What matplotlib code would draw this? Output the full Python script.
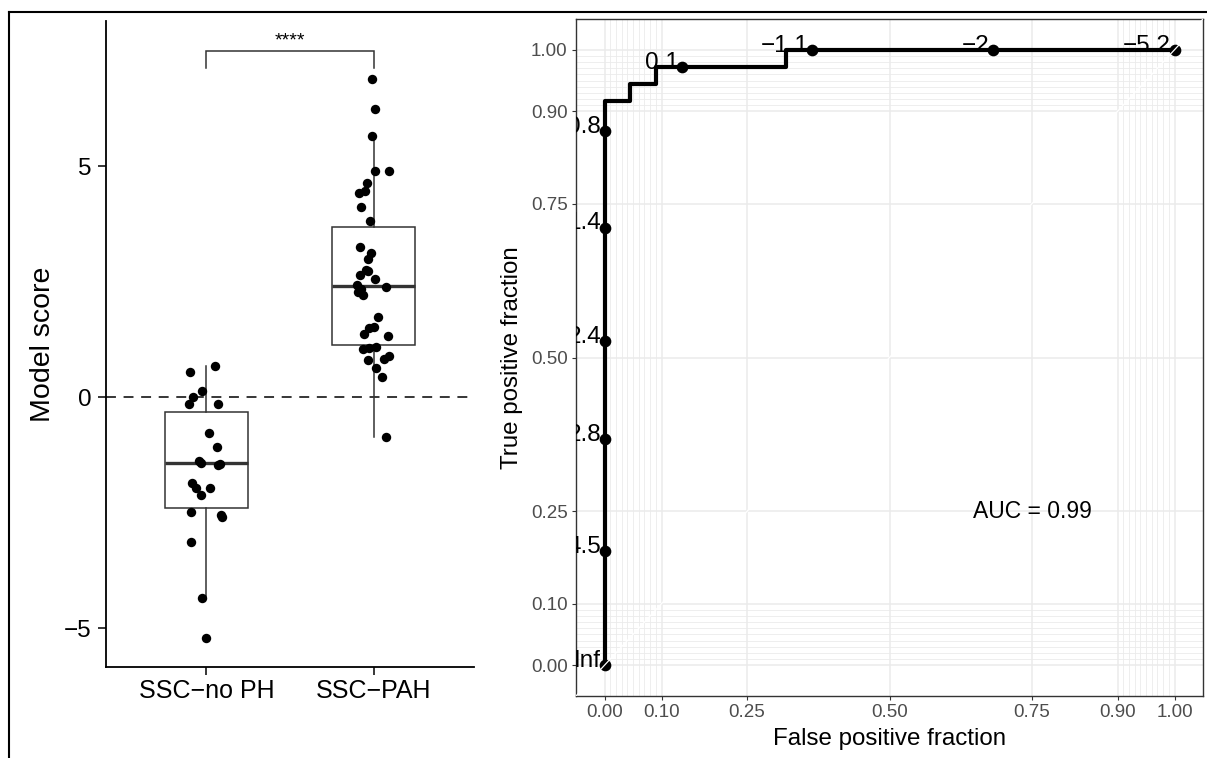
import matplotlib
matplotlib.use("Agg")
import matplotlib.pyplot as plt
from matplotlib.lines import Line2D

plt.rcParams['font.family'] = ['Liberation Sans', 'DejaVu Sans']

MINUS = '\u2212'

# ---- left panel data: model score per group (jitter) ----
groups = ['SSC' + MINUS + 'no PH', 'SSC' + MINUS + 'PAH']

score_noph = [0.68, 0.54, 0.13, 0.0, -0.15, -0.15, -0.78, -1.07, -1.38, -1.42, -1.44,
              -1.47, -1.86, -1.96, -1.96, -2.12, -2.49, -2.55, -2.60, -3.14, -4.35, -5.22]
jitter_noph = [0.054, -0.096, -0.024, -0.078, -0.102, 0.072, 0.018, 0.066, -0.042, -0.030, 0.084,
               0.072, -0.084, -0.060, 0.024, -0.030, -0.090, 0.090, 0.096, -0.090, -0.024, 0.0]

score_pah = [6.88, 6.23, 5.66, 4.89, 4.89, 4.64, 4.47, 4.42, 4.12, 3.81, 3.24, 3.12,
             3.00, 2.76, 2.73, 2.64, 2.55, 2.42, 2.39, 2.33, 2.28, 2.21, 1.74, 1.51,
             1.50, 1.36, 1.33, 1.08, 1.06, 1.04, 0.89, 0.82, 0.80, 0.64, 0.44, -0.86]
jitter_pah = [-0.012, 0.006, -0.012, 0.006, 0.090, -0.042, -0.054, -0.090, -0.078, -0.024, -0.084, -0.018,
              -0.036, -0.048, -0.036, -0.084, 0.006, -0.102, 0.072, -0.078, -0.096, -0.066, 0.024, 0.0,
              -0.030, -0.060, 0.084, 0.012, -0.030, -0.066, 0.090, 0.060, -0.036, 0.012, 0.048, 0.072]

# box summaries as drawn in the reference
box_med = [-1.43, 2.40]
box_q1 = [-2.40, 1.13]
box_q3 = [-0.32, 3.68]
whisk_lo = [-4.35, -0.87]
whisk_hi = [0.67, 5.58]
sig_label = '****'

# ---- right panel data: ROC curve ----
roc_fpr = [0.0, 0.0, 0.045, 0.091, 0.318, 1.0]
roc_tpr = [0.0, 0.917, 0.944, 0.972, 1.0, 1.0]

cut_fpr = [0.0, 0.0, 0.0, 0.0, 0.0, 0.0, 0.136, 0.364, 0.682, 1.0]
cut_tpr = [0.0, 0.185, 0.368, 0.527, 0.711, 0.868, 0.972, 1.0, 1.0, 1.0]
cut_labels = ['Inf', '4.5', '2.8', '2.4', '1.4', '0.8', '0.1',
              MINUS + '1.1', MINUS + '2', MINUS + '5.2']
auc = 0.99

roc_breaks = [0, 0.1, 0.25, 0.5, 0.75, 0.9, 1.0]
roc_minor = [i / 100 for i in range(1, 10)] + [0.9 + i / 100 for i in range(1, 10)]

W, H = 1207, 758
fig = plt.figure(figsize=(W / 100, H / 100), dpi=100)

# outer frame (top and left edges only)
fig.add_artist(Line2D([9.3 / W, 1], [1 - 11.5 / H] * 2, transform=fig.transFigure,
                      color='black', lw=1.5))
fig.add_artist(Line2D([9.3 / W] * 2, [0, 1 - 11.5 / H], transform=fig.transFigure,
                      color='black', lw=1.5))

# ================= left panel =================
ax1 = fig.add_axes([106 / W, 1 - 667 / H, 368 / W, 646 / H])
stats = []
for i in range(2):
    stats.append(dict(med=box_med[i], q1=box_q1[i], q3=box_q3[i],
                      whislo=whisk_lo[i], whishi=whisk_hi[i], label=groups[i]))
ax1.bxp(stats, positions=[1, 2], widths=0.5, showfliers=False, showcaps=False,
        patch_artist=True,
        boxprops=dict(facecolor='white', edgecolor='#333333', linewidth=1.1),
        medianprops=dict(color='#333333', linewidth=2.4),
        whiskerprops=dict(color='#333333', linewidth=1.1), zorder=2)

ax1.axhline(0, color='black', lw=1.1, dashes=(6.5, 5), zorder=1)

x1 = [1 + j for j in jitter_noph]
x2 = [2 + j for j in jitter_pah]
ax1.scatter(x1, score_noph, s=46, color='black', linewidths=0, zorder=3)
ax1.scatter(x2, score_pah, s=46, color='black', linewidths=0, zorder=3)

# significance bracket
ax1.plot([1, 1, 2, 2], [7.12, 7.49, 7.49, 7.12], color='#333333', lw=1.1,
         solid_joinstyle='miter')
ax1.text(1.5, 7.62, sig_label, ha='center', va='baseline', fontsize=14)

ax1.set_xlim(0.4, 2.6)
ax1.set_ylim(-5.84, 8.14)
ax1.set_xticks([1, 2])
ax1.set_xticklabels(groups)
ax1.set_yticks([-5, 0, 5])
ax1.spines['top'].set_visible(False)
ax1.spines['right'].set_visible(False)
for s in ['left', 'bottom']:
    ax1.spines[s].set_linewidth(1.3)
ax1.tick_params(axis='both', length=5.5, width=1.1, color='black')
ax1.tick_params(axis='y', labelsize=17.5, pad=5)
ax1.tick_params(axis='x', labelsize=18, pad=3)
ax1.set_ylabel('Model score', fontsize=20.5)
ax1.yaxis.set_label_coords(-0.136, 0.5)

# ================= right panel =================
ax2 = fig.add_axes([576 / W, 1 - 696 / H, 627 / W, 677 / H])
ax2.set_xlim(-0.05, 1.05)
ax2.set_ylim(-0.05, 1.05)
ax2.set_xticks(roc_breaks)
ax2.set_yticks(roc_breaks)
ax2.set_xticklabels([f'{b:.2f}' for b in roc_breaks])
ax2.set_yticklabels([f'{b:.2f}' for b in roc_breaks])
ax2.set_xticks(roc_minor, minor=True)
ax2.set_yticks(roc_minor, minor=True)
ax2.set_axisbelow(True)
ax2.grid(which='major', color='#EBEBEB', lw=1.1)
ax2.grid(which='minor', color='#EBEBEB', lw=0.6)
ax2.tick_params(which='minor', length=0)
ax2.tick_params(which='major', length=3, width=0.8, color='#333333',
                labelsize=13.5, labelcolor='#4D4D4D', pad=3)
for s in ax2.spines.values():
    s.set_color('#333333')
    s.set_linewidth(1.0)

ax2.plot(roc_fpr, roc_tpr, drawstyle='steps-post', color='black', lw=3.0, zorder=3)
ax2.plot(cut_fpr, cut_tpr, 'o', color='black', ms=7.4, zorder=4)
for fx, ty, lab in zip(cut_fpr, cut_tpr, cut_labels):
    ax2.annotate(lab, (fx, ty), xytext=(-2.5, 3), textcoords='offset points',
                 ha='right', va='center', fontsize=17.5, clip_on=True, zorder=4)
ax2.plot([-0.05, 1.05], [-0.05, 1.05], color='white', lw=0.9, zorder=5)

ax2.text(0.75, 0.25, f'AUC = {auc:.2f}', ha='center', va='center', fontsize=16.5)

ax2.set_xlabel('False positive fraction', fontsize=17.4)
ax2.set_ylabel('True positive fraction', fontsize=17.4)
ax2.xaxis.set_label_coords(0.5, -0.048)
ax2.yaxis.set_label_coords(-0.0845, 0.5)

fig.savefig('out.png', dpi=100)
